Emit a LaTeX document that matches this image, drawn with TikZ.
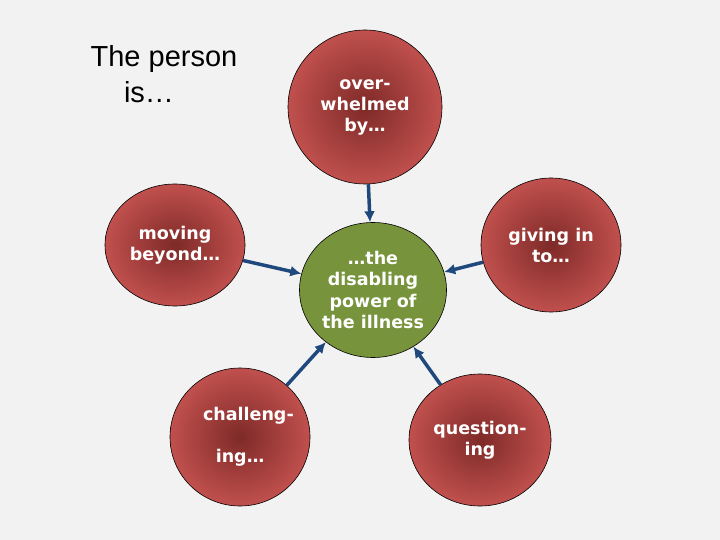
\documentclass[tikz,border=0pt]{standalone}
\usepackage{fontspec}
\setmainfont{DejaVu Sans}
\newfontfamily\titlefont{Liberation Sans}
\usetikzlibrary{shapes.geometric,arrows.meta}
\definecolor{bg}{HTML}{F2F2F2}
\definecolor{redc}{HTML}{C0504D}
\definecolor{redd}{HTML}{7E2A28}
\definecolor{grn}{HTML}{77933C}
\definecolor{arr}{HTML}{1F497D}
\tikzset{
 bub/.style={ellipse,draw=black,line width=0.6pt,inner sep=0pt,inner color=redd,outer color=redc,
   text=white,font=\bfseries\fontsize{17.5}{21}\selectfont,align=center},
 ctrbub/.style={ellipse,draw=black,line width=0.6pt,inner sep=0pt,fill=grn,
   text=white,font=\bfseries\fontsize{17.5}{21.5}\selectfont,align=center},
 link/.style={draw=arr,line width=3.5pt,-{Latex[length=11pt,width=11pt]}},
 ttl/.style={font=\titlefont\fontsize{29}{33}\selectfont,inner sep=0pt}
}
\begin{document}
\begin{tikzpicture}[x=1pt,y=-1pt]
\fill[bg] (0,0) rectangle (720,540);
\useasboundingbox (0,0) rectangle (720,540);
\node[ttl] (t1) at (164,59) {The person};
\node[ttl] (t2) at (149,92) {is…};
\node[bub,minimum width=154pt,minimum height=154pt] (top) at (365,107) {over-\\whelmed\\by…};
\node[bub,minimum width=140pt,minimum height=122pt] (lft) at (175,245) {moving\\beyond…};
\node[bub,minimum width=140pt,minimum height=134pt] (rgt) at (551,245) {giving in\\to…};
\node[bub,minimum width=140pt,minimum height=138pt] (bl) at (240,437) {\raisebox{-9pt}{\parbox{2.6cm}{\centering challeng-\\ing…}}};
\node[bub,minimum width=142pt,minimum height=132pt] (br) at (480,440) {question-\\ing};
\node[ctrbub,minimum width=147pt,minimum height=135pt] (ctr) at (373,290) {…the\\disabling\\power of\\the illness};
\draw[link] (top) -- (ctr);
\draw[link] (rgt) -- (ctr);
\draw[link] (br) -- (ctr);
\draw[link] (bl) -- (ctr);
\draw[link] (lft) -- (ctr);
\end{tikzpicture}
\end{document}
